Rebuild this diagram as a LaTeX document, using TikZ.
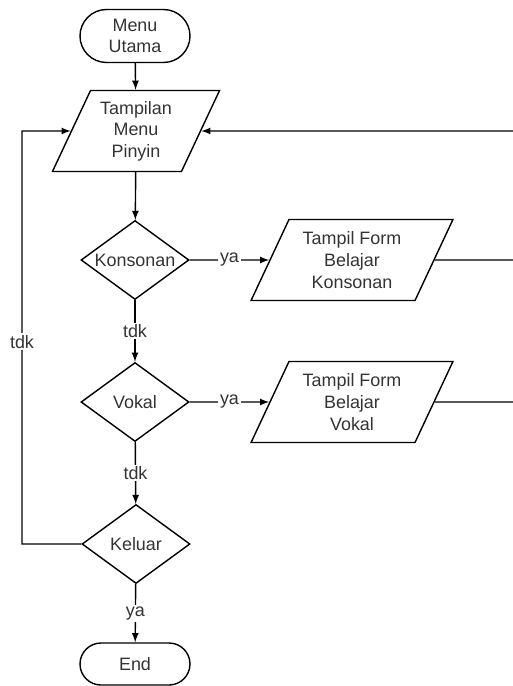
\documentclass[tikz,border=0pt]{standalone}
\usepackage{fontspec}
\setmainfont{Liberation Sans}
\usetikzlibrary{arrows,shapes.geometric}

\begin{document}
\begin{tikzpicture}[>=latex, line width=0.8pt,
  every node/.style={font=\fontsize{10.2}{12.3}\selectfont, text=black!80, align=center},
  terminal/.style={draw, rectangle, minimum width=2.2cm},
  io/.style={draw, trapezium, trapezium left angle=64, trapezium right angle=116,
    trapezium stretches=true, minimum height=1.62cm},
  decision/.style={draw, diamond, aspect=1.37, inner sep=0pt, minimum width=2.16cm, minimum height=1.58cm},
  label/.style={fill=white, inner sep=1pt}]
\useasboundingbox (0,0) rectangle (10.24,-13.72);
\node[terminal, minimum height=1.06cm, rounded corners=0.53cm] (menu) at (2.70,-0.72) {Menu\\Utama};
\node[io, minimum width=3.36cm] (tampil) at (2.72,-2.62) {Tampilan\\Menu\\Pinyin};
\node[decision] (kons) at (2.70,-5.20) {Konsonan};
\node[io, minimum width=4.06cm] (formkons) at (7.04,-5.20) {Tampil Form\\Belajar\\Konsonan};
\node[decision] (vokal) at (2.70,-8.04) {Vokal};
\node[io, minimum width=4.06cm] (formvokal) at (7.04,-8.04) {Tampil Form\\Belajar\\Vokal};
\node[decision] (keluar) at (2.72,-10.88) {Keluar};
\node[terminal, minimum height=0.84cm, rounded corners=0.42cm] (end) at (2.70,-13.28) {End};
\coordinate (kiri) at (0.44,-2.62);
\coordinate (kanan) at (10.3,-2.62);
\coordinate (kanankons) at (10.3,-5.20);
\coordinate (kananvokal) at (10.3,-8.04);
\draw[->] (menu) -- (tampil);
\draw[->] (tampil) -- (kons);
\draw[->] (kons) -- node[label] {ya} (formkons);
\draw[->] (kons) -- node[label] {tdk} (vokal);
\draw[->] (vokal) -- node[label] {ya} (formvokal);
\draw[->] (vokal) -- node[label] {tdk} (keluar);
\draw[->] (keluar) -- node[label] {ya} (end);
\draw[->] (keluar.west) -| node[label, pos=0.745] {tdk} (kiri) -- (tampil.west);
\draw[->] (kanan) -- (tampil.east);
\draw (formkons.east) -- (kanankons);
\draw (formvokal.east) -- (kananvokal);
\end{tikzpicture}
\end{document}
